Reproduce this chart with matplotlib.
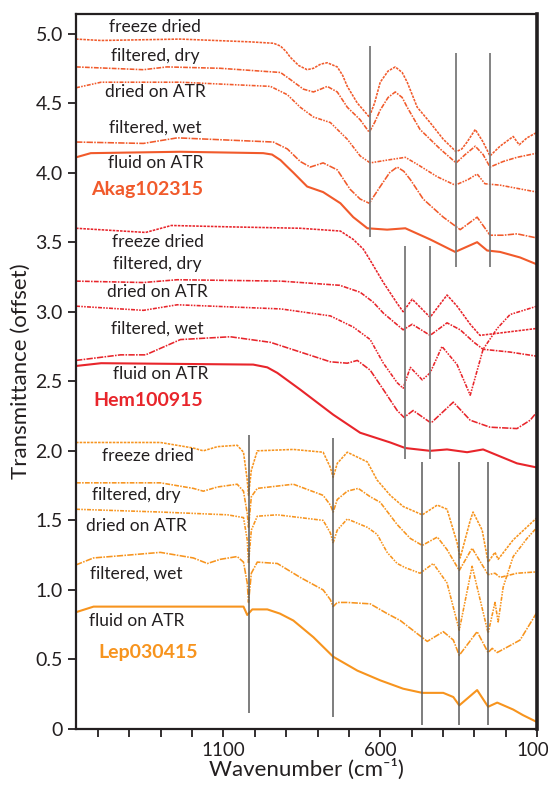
import matplotlib
matplotlib.use("Agg")
import matplotlib.pyplot as plt
from matplotlib.transforms import ScaledTranslation

plt.rcParams['font.family'] = ['Lato', 'DejaVu Sans']

# ---- Akag102315 spectra (wavenumber, transmittance offset) ----
akag_fd_w = [1570, 1490, 1238, 1014, 940, 918, 900, 887, 860, 833, 813, 790, 769, 737, 720, 705, 673, 650, 635, 618, 600, 575, 552, 530, 514, 482, 441, 399, 358, 340, 323, 297, 272, 250, 218, 176, 157, 132, 100]
akag_fd_t = [4.96, 4.95, 4.96, 4.94, 4.93, 4.91, 4.87, 4.83, 4.77, 4.74, 4.75, 4.78, 4.79, 4.76, 4.70, 4.62, 4.50, 4.44, 4.40, 4.50, 4.65, 4.73, 4.76, 4.72, 4.65, 4.47, 4.36, 4.24, 4.15, 4.17, 4.22, 4.31, 4.22, 4.12, 4.19, 4.26, 4.20, 4.25, 4.29]

akag_fdry_w = [1570, 1355, 1280, 1110, 918, 887, 845, 813, 790, 769, 737, 705, 664, 635, 618, 600, 575, 552, 530, 514, 473, 409, 358, 329, 297, 272, 250, 208, 164, 100]
akag_fdry_t = [4.76, 4.74, 4.76, 4.75, 4.72, 4.67, 4.60, 4.58, 4.60, 4.62, 4.58, 4.47, 4.38, 4.29, 4.36, 4.45, 4.54, 4.58, 4.54, 4.47, 4.31, 4.17, 4.07, 4.13, 4.19, 4.13, 4.04, 4.08, 4.11, 4.14]

akag_datr_w = [1570, 1490, 1237, 950, 896, 855, 813, 759, 705, 664, 632, 578, 520, 482, 418, 361, 320, 291, 266, 218, 100]
akag_datr_t = [4.61, 4.65, 4.65, 4.62, 4.56, 4.47, 4.40, 4.36, 4.24, 4.12, 4.07, 4.09, 4.11, 4.06, 3.97, 3.91, 3.95, 3.99, 3.92, 3.91, 3.86]

akag_fwet_w = [1570, 1355, 1247, 941, 896, 855, 823, 782, 737, 696, 664, 635, 600, 570, 546, 525, 504, 463, 399, 345, 291, 250, 208, 164, 100]
akag_fwet_t = [4.22, 4.21, 4.25, 4.22, 4.17, 4.08, 4.04, 4.07, 4.02, 3.88, 3.81, 3.78, 3.90, 4.00, 4.04, 4.01, 3.95, 3.81, 3.68, 3.59, 3.68, 3.55, 3.55, 3.56, 3.53]

akag_fluid_w = [1570, 1523, 1237, 973, 945, 918, 900, 877, 855, 833, 782, 727, 686, 641, 578, 520, 441, 361, 291, 259, 218, 154, 100]
akag_fluid_t = [4.11, 4.14, 4.15, 4.14, 4.13, 4.09, 4.05, 4.00, 3.95, 3.90, 3.86, 3.78, 3.68, 3.60, 3.59, 3.60, 3.52, 3.43, 3.50, 3.44, 3.43, 3.39, 3.34]

# ---- Hem100915 spectra ----
hem_fd_w = [1570, 1348, 1266, 1078, 855, 727, 686, 654, 632, 590, 546, 527, 498, 441, 387, 355, 313, 282, 208, 100]
hem_fd_t = [3.60, 3.57, 3.62, 3.61, 3.60, 3.58, 3.52, 3.45, 3.37, 3.21, 3.06, 3.00, 3.09, 2.96, 3.12, 3.04, 2.91, 2.83, 2.85, 2.88]

hem_fdry_w = [1570, 1355, 1247, 916, 729, 664, 623, 590, 527, 498, 441, 387, 345, 301, 272, 186, 100]
hem_fdry_t = [3.22, 3.21, 3.23, 3.22, 3.19, 3.14, 3.07, 2.99, 2.87, 2.91, 2.83, 2.92, 2.87, 2.78, 2.73, 2.71, 2.68]

hem_datr_w = [1570, 1355, 1247, 916, 759, 686, 632, 590, 546, 527, 504, 466, 441, 403, 355, 313, 272, 227, 186, 100]
hem_datr_t = [3.04, 3.01, 3.05, 3.02, 2.97, 2.89, 2.80, 2.63, 2.49, 2.45, 2.60, 2.51, 2.56, 2.75, 2.62, 2.40, 2.73, 2.88, 2.98, 3.04]

hem_fwet_w = [1570, 1428, 1348, 1237, 1078, 950, 759, 705, 673, 632, 590, 546, 524, 495, 438, 367, 313, 250, 164, 122, 100]
hem_fwet_t = [2.65, 2.69, 2.69, 2.80, 2.82, 2.78, 2.64, 2.63, 2.65, 2.58, 2.44, 2.29, 2.24, 2.29, 2.20, 2.35, 2.22, 2.17, 2.16, 2.22, 2.28]

hem_fluid_w = [1570, 1490, 1005, 960, 928, 855, 750, 664, 568, 520, 441, 387, 323, 272, 218, 164, 100]
hem_fluid_t = [2.61, 2.63, 2.62, 2.60, 2.56, 2.44, 2.26, 2.13, 2.06, 2.02, 2.00, 2.01, 1.99, 2.01, 1.96, 1.91, 1.88]

# ---- Lep030415 spectra ----
lep_fd_w = [1570, 1301, 1196, 1164, 1119, 1056, 1036, 1024, 1020, 1011, 992, 877, 782, 759, 750, 737, 705, 641, 610, 568, 527, 466, 418, 387, 355, 345, 313, 304, 275, 256, 234, 224, 176, 100]
lep_fd_t = [2.06, 2.06, 2.02, 2.00, 2.03, 2.04, 1.99, 1.79, 1.68, 1.86, 2.00, 2.01, 1.99, 1.88, 1.81, 1.91, 1.99, 1.92, 1.79, 1.68, 1.60, 1.54, 1.61, 1.58, 1.34, 1.23, 1.50, 1.56, 1.43, 1.20, 1.27, 1.22, 1.36, 1.52]

lep_fdry_w = [1570, 1301, 1196, 1164, 1119, 1056, 1036, 1024, 1020, 1011, 992, 877, 782, 759, 750, 737, 705, 670, 632, 600, 546, 504, 466, 418, 387, 348, 307, 256, 234, 218, 164, 100]
lep_fdry_t = [1.77, 1.77, 1.73, 1.71, 1.74, 1.76, 1.71, 1.55, 1.45, 1.67, 1.73, 1.76, 1.68, 1.61, 1.56, 1.65, 1.71, 1.73, 1.67, 1.63, 1.47, 1.37, 1.32, 1.38, 1.29, 1.14, 1.30, 1.11, 1.12, 1.09, 1.12, 1.13]

lep_datr_w = [1570, 1301, 1087, 1036, 1024, 1020, 1011, 992, 928, 782, 759, 750, 737, 705, 641, 610, 578, 546, 520, 473, 431, 387, 348, 307, 256, 234, 224, 208, 176, 132, 100]
lep_datr_t = [1.58, 1.56, 1.54, 1.52, 1.36, 1.19, 1.43, 1.53, 1.54, 1.50, 1.41, 1.34, 1.43, 1.51, 1.45, 1.40, 1.27, 1.19, 1.16, 1.12, 1.19, 1.05, 0.71, 1.17, 0.69, 0.91, 0.77, 1.02, 1.24, 1.37, 1.45]

lep_fwet_w = [1570, 1514, 1406, 1301, 1196, 1151, 1110, 1056, 1036, 1024, 1020, 1011, 992, 928, 855, 782, 759, 750, 737, 705, 632, 578, 536, 450, 399, 367, 348, 291, 256, 243, 227, 186, 154, 100]
lep_fwet_t = [1.18, 1.23, 1.25, 1.27, 1.23, 1.19, 1.22, 1.24, 1.20, 1.05, 0.91, 1.12, 1.20, 1.19, 1.09, 1.00, 0.93, 0.88, 0.91, 0.91, 0.90, 0.83, 0.78, 0.63, 0.70, 0.64, 0.53, 0.70, 0.55, 0.58, 0.55, 0.60, 0.64, 0.84]

lep_fluid_w = [1570, 1514, 1406, 1087, 1036, 1024, 1008, 960, 920, 877, 813, 750, 673, 600, 527, 466, 399, 367, 348, 291, 256, 227, 176, 145, 100]
lep_fluid_t = [0.84, 0.88, 0.88, 0.88, 0.88, 0.82, 0.86, 0.86, 0.83, 0.78, 0.66, 0.52, 0.42, 0.35, 0.29, 0.26, 0.26, 0.23, 0.17, 0.28, 0.16, 0.19, 0.14, 0.10, 0.05]

# reference peak positions (cm-1) and their vertical extents
akag_peaks = [632, 358, 250]
akag_peak_lo = [3.54, 3.32, 3.32]
akag_peak_hi = [4.91, 4.86, 4.86]
hem_peaks = [520, 441]
hem_peak_lo = [1.94, 1.94]
hem_peak_hi = [3.47, 3.47]
lep_peaks = [1020, 750, 466, 348, 256]
lep_peak_lo = [0.115, 0.09, 0.03, 0.03, 0.03]
lep_peak_hi = [2.115, 2.09, 1.92, 1.92, 1.92]

prep_labels = ["freeze dried", "filtered, dry", "dried on ATR", "filtered, wet", "fluid on ATR"]

AKAG_C = "#F15A2B"
HEM_C = "#E8252B"
LEP_C = "#F7941E"
TXT_C = "#231f20"

styles = [(0, (1.6, 0.7)), (0, (3, 0.8, 1, 0.8)), (0, (2.5, 0.8, 1, 0.8, 1, 0.8)), (0, (4, 0.8, 1, 0.8)), "-"]

fig = plt.figure(figsize=(5.48, 7.85), dpi=100)
ax = fig.add_axes([0.1387, 0.0713, 0.8413, 0.9108])

groups = [
    (AKAG_C, [(akag_fd_w, akag_fd_t), (akag_fdry_w, akag_fdry_t), (akag_datr_w, akag_datr_t),
              (akag_fwet_w, akag_fwet_t), (akag_fluid_w, akag_fluid_t)]),
    (HEM_C, [(hem_fd_w, hem_fd_t), (hem_fdry_w, hem_fdry_t), (hem_datr_w, hem_datr_t),
             (hem_fwet_w, hem_fwet_t), (hem_fluid_w, hem_fluid_t)]),
    (LEP_C, [(lep_fd_w, lep_fd_t), (lep_fdry_w, lep_fdry_t), (lep_datr_w, lep_datr_t),
             (lep_fwet_w, lep_fwet_t), (lep_fluid_w, lep_fluid_t)]),
]
for col, curves in groups:
    for (w, t), ls in zip(curves, styles):
        lw = 1.5 if ls == "-" else 1.15
        ax.plot(w, t, color=col, lw=lw, linestyle=ls, solid_joinstyle="round")

ax.vlines(akag_peaks, akag_peak_lo, akag_peak_hi, color="#7a7a7a", lw=1.3)
ax.vlines(hem_peaks, hem_peak_lo, hem_peak_hi, color="#7a7a7a", lw=1.3)
ax.vlines(lep_peaks, lep_peak_lo, lep_peak_hi, color="#5a5a5a", lw=1.1)

# sample annotations
lab_kw = dict(ha="center", va="center", fontsize=12.5, color=TXT_C)
akag_y = [5.05, 4.84, 4.58, 4.32, 4.07]
hem_y = [3.50, 3.34, 3.14, 2.88, 2.55]
lep_y = [1.96, 1.68, 1.46, 1.12, 0.78]
for i, s in enumerate(prep_labels):
    ax.text(1317, akag_y[i], s, **lab_kw)
    ax.text(1310 if i < 4 else 1300, hem_y[i], s, **lab_kw)
    ax.text(1377 if i else 1340, lep_y[i], s, **lab_kw)
ax.text(1342, 3.88, "Akag102315", ha="center", va="center", fontsize=14, fontweight="bold", color=AKAG_C)
ax.text(1339, 2.36, "Hem100915", ha="center", va="center", fontsize=14, fontweight="bold", color=HEM_C)
ax.text(1339, 0.55, "Lep030415", ha="center", va="center", fontsize=14, fontweight="bold", color=LEP_C)

ax.set_xlim(1570, 100)
ax.set_ylim(0, 5.14)
xt = list(range(100, 1600, 100))
ax.set_xticks(xt)
ax.set_xticklabels([str(v) if v in (100, 600, 1100) else "" for v in xt])
ax.set_yticks([0, 0.5, 1.0, 1.5, 2.0, 2.5, 3.0, 3.5, 4.0, 4.5, 5.0])
ax.set_yticklabels(["0", "0.5", "1.0", "1.5", "2.0", "2.5", "3.0", "3.5", "4.0", "4.5", "5.0"])
ax.tick_params(axis="both", direction="out", length=6, width=1.3, labelsize=14, colors=TXT_C)
ax.tick_params(axis="x", labelsize=13.5, pad=3)
for sp in ax.spines.values():
    sp.set_linewidth(1.6)
    sp.set_color(TXT_C)
ax.spines["right"].set_linewidth(2.6)

# keep the "100" label inside the canvas
lbl100 = ax.get_xticklabels()[0]
lbl100.set_transform(lbl100.get_transform() + ScaledTranslation(-4 / 100, 0, fig.dpi_scale_trans))

ax.set_xlabel("Wavenumber (cm\u207b\u00b9)", fontsize=16, color=TXT_C)
ax.xaxis.set_label_coords(0.5, -0.042)
ax.xaxis.label.set_va("top")
ax.set_ylabel("Transmittance (offset)", fontsize=16, color=TXT_C, labelpad=3)

fig.savefig("out.png", dpi=100)
